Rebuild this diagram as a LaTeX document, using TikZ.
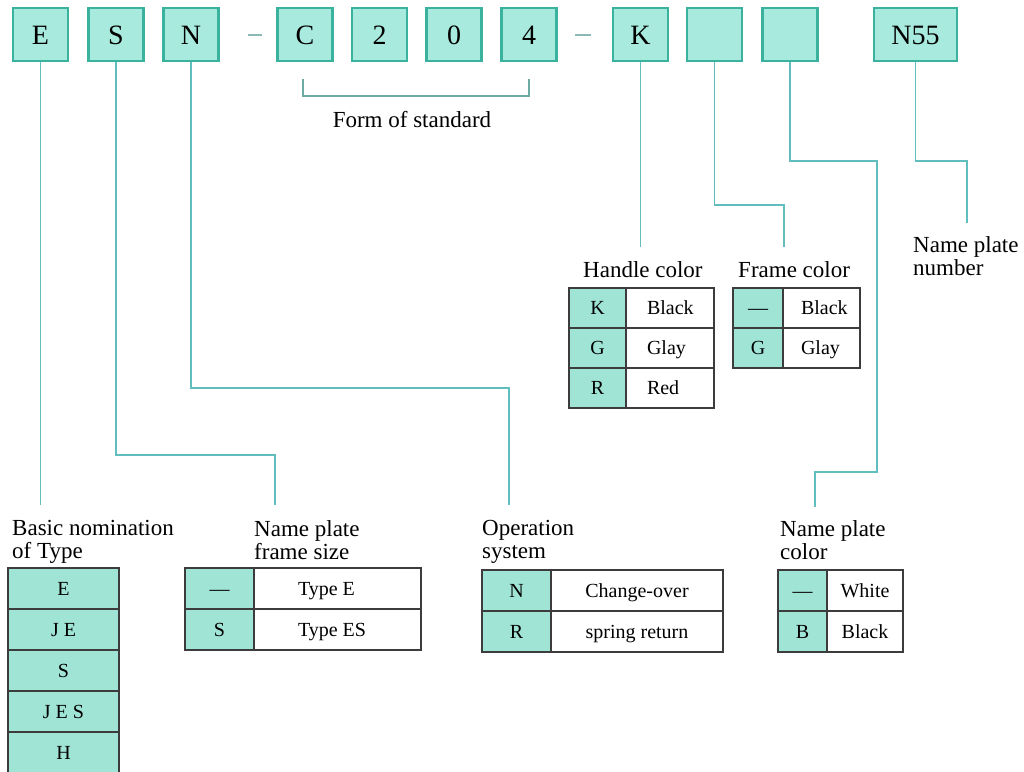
\documentclass[tikz,border=0pt]{standalone}
\usepackage{fontspec}
\setmainfont{Liberation Serif}
\definecolor{boxfill}{RGB}{168,234,221}
\definecolor{boxline}{RGB}{58,178,158}
\definecolor{cellfill}{RGB}{160,228,214}
\definecolor{connline}{RGB}{98,190,190}
\definecolor{bracketline}{RGB}{110,170,165}
\definecolor{gridline}{RGB}{60,60,60}
\definecolor{sepcol}{RGB}{140,185,180}
\newcommand{\lcell}[3]{\makebox[#1pt][l]{\hspace{#2pt}#3}}
\begin{document}
\begin{tikzpicture}[x=1pt,y=-1pt,
  codebox/.style={draw=boxline, fill=boxfill, line width=2.5pt, minimum height=53pt, inner sep=0pt, text height=19pt, text depth=0pt, font=\fontsize{28}{30}\selectfont},
  connector/.style={draw=connline, line width=1.5pt},
  bracketpath/.style={draw=bracketline, line width=1.5pt},
  seppath/.style={draw=sepcol, line width=1.2pt},
  label/.style={anchor=north west, align=left, inner sep=0pt, font=\fontsize{23}{23}\selectfont},
  cellbase/.style={draw=gridline, line width=1.3pt, inner sep=0pt, text height=14pt, text depth=1pt, font=\fontsize{20}{22}\selectfont},
  keycell/.style={cellbase, fill=cellfill},
  valcell/.style={cellbase, fill=white}]
\useasboundingbox (0,0) rectangle (1024,771);
\fill[white] (0,0) rectangle (1024,771);

% ---- top code boxes ----
\node[codebox, minimum width=55pt] (bE) at (40.5,34.5) {E};
\node[codebox, minimum width=55pt] (bS) at (116,34.5) {S};
\node[codebox, minimum width=55pt] (bN) at (191,34.5) {N};
\node[codebox, minimum width=55pt] (bC) at (305,34.5) {C};
\node[codebox, minimum width=55pt] (b2) at (379.5,34.5) {2};
\node[codebox, minimum width=55pt] (b0) at (454,34.5) {0};
\node[codebox, minimum width=55pt] (b4) at (529,34.5) {4};
\node[codebox, minimum width=55pt] (bK) at (640.5,34.5) {K};
\node[codebox, minimum width=55pt] (bF) at (714.5,34.5) {};
\node[codebox, minimum width=55pt] (bP) at (790,34.5) {};
\node[codebox, minimum width=83pt] (bNum) at (915.5,34.5) {N55};

% separators
\draw[seppath] (248,35) -- (262,35);
\draw[seppath] (575,35) -- (591,35);

% bracket
\coordinate (brL) at (303,79);
\coordinate (brLb) at (303,96);
\coordinate (brRb) at (529,96);
\coordinate (brR) at (529,79);
\draw[bracketpath] (brL) -- (brLb) -- (brRb) -- (brR);
\node[inner sep=0pt, anchor=base, font=\fontsize{23}{23}\selectfont] (formstd) at (412,127) {Form of standard};

% ---- connectors ----
\coordinate (eEnd) at (40.5,505);
\draw[connector] (bE.south) -- (eEnd);
\coordinate (sBend) at (275,455);
\coordinate (sEnd) at (275,505);
\draw[connector] (bS.south) |- (sBend) -- (sEnd);
\coordinate (nBend) at (509,388);
\coordinate (nEnd) at (509,505);
\draw[connector] (bN.south) |- (nBend) -- (nEnd);
\coordinate (kEnd) at (640.5,247);
\draw[connector] (bK.south) -- (kEnd);
\coordinate (fBend) at (784,205);
\coordinate (fEnd) at (784,247);
\draw[connector] (bF.south) |- (fBend) -- (fEnd);
\coordinate (pBend1) at (877,161);
\coordinate (pBend2) at (815,472);
\coordinate (pEnd) at (815,507);
\draw[connector] (bP.south) |- (pBend1) |- (pBend2) -- (pEnd);
\coordinate (numBend) at (967,161);
\coordinate (numEnd) at (967,223);
\draw[connector] (bNum.south) |- (numBend) -- (numEnd);

% ---- labels ----
\node[label] (lBasic) at (12,520) {Basic nomination\\of Type};
\node[label] (lFrameSize) at (254,520) {Name plate\\frame size};
\node[label] (lOper) at (482,520) {Operation\\system};
\node[label] (lPlateCol) at (780,520) {Name plate\\color};
\node[label] (lHandle) at (583,261) {Handle color};
\node[label] (lFrameCol) at (738,261) {Frame color};
\node[label] (lNumber) at (913,236) {Name plate\\number};

% ---- Handle color table ----
\node[keycell, minimum width=57pt, minimum height=40pt] (hk1) at (597.5,308) {K};
\node[keycell, minimum width=57pt, minimum height=40pt] (hk2) at (597.5,348) {G};
\node[keycell, minimum width=57pt, minimum height=40pt] (hk3) at (597.5,388) {R};
\node[valcell, minimum width=88pt, minimum height=40pt] (hv1) at (670,308) {\lcell{88}{21}{Black}};
\node[valcell, minimum width=88pt, minimum height=40pt] (hv2) at (670,348) {\lcell{88}{21}{Glay}};
\node[valcell, minimum width=88pt, minimum height=40pt] (hv3) at (670,388) {\lcell{88}{21}{Red}};

% ---- Frame color table ----
\node[keycell, minimum width=50pt, minimum height=40pt] (fk1) at (758,308) {---};
\node[keycell, minimum width=50pt, minimum height=40pt] (fk2) at (758,348) {G};
\node[valcell, minimum width=77pt, minimum height=40pt] (fv1) at (821.5,308) {\lcell{77}{18}{Black}};
\node[valcell, minimum width=77pt, minimum height=40pt] (fv2) at (821.5,348) {\lcell{77}{18}{Glay}};

% ---- Basic nomination table ----
\node[keycell, minimum width=111pt, minimum height=41pt] (tk1) at (63.5,588.5) {E};
\node[keycell, minimum width=111pt, minimum height=41pt] (tk2) at (63.5,629.5) {J E};
\node[keycell, minimum width=111pt, minimum height=41pt] (tk3) at (63.5,670.5) {S};
\node[keycell, minimum width=111pt, minimum height=41pt] (tk4) at (63.5,711.5) {J E S};
\node[keycell, minimum width=111pt, minimum height=41pt] (tk5) at (63.5,752.5) {H};

% ---- Frame size table ----
\node[keycell, minimum width=69pt, minimum height=41pt] (sk1) at (219.5,588.5) {---};
\node[keycell, minimum width=69pt, minimum height=41pt] (sk2) at (219.5,629.5) {S};
\node[valcell, minimum width=167pt, minimum height=41pt] (sv1) at (337.5,588.5) {\lcell{167}{44}{Type E}};
\node[valcell, minimum width=167pt, minimum height=41pt] (sv2) at (337.5,629.5) {\lcell{167}{44}{Type ES}};

% ---- Operation system table ----
\node[keycell, minimum width=69pt, minimum height=41pt] (ok1) at (516.5,590.5) {N};
\node[keycell, minimum width=69pt, minimum height=41pt] (ok2) at (516.5,631.5) {R};
\node[valcell, minimum width=172pt, minimum height=41pt] (ov1) at (637,590.5) {Change-over};
\node[valcell, minimum width=172pt, minimum height=41pt] (ov2) at (637,631.5) {spring return};

% ---- Name plate color table ----
\node[keycell, minimum width=49pt, minimum height=41pt] (pk1) at (802.5,590.5) {---};
\node[keycell, minimum width=49pt, minimum height=41pt] (pk2) at (802.5,631.5) {B};
\node[valcell, minimum width=76pt, minimum height=41pt] (pv1) at (865,590.5) {White};
\node[valcell, minimum width=76pt, minimum height=41pt] (pv2) at (865,631.5) {Black};
\end{tikzpicture}
\end{document}
